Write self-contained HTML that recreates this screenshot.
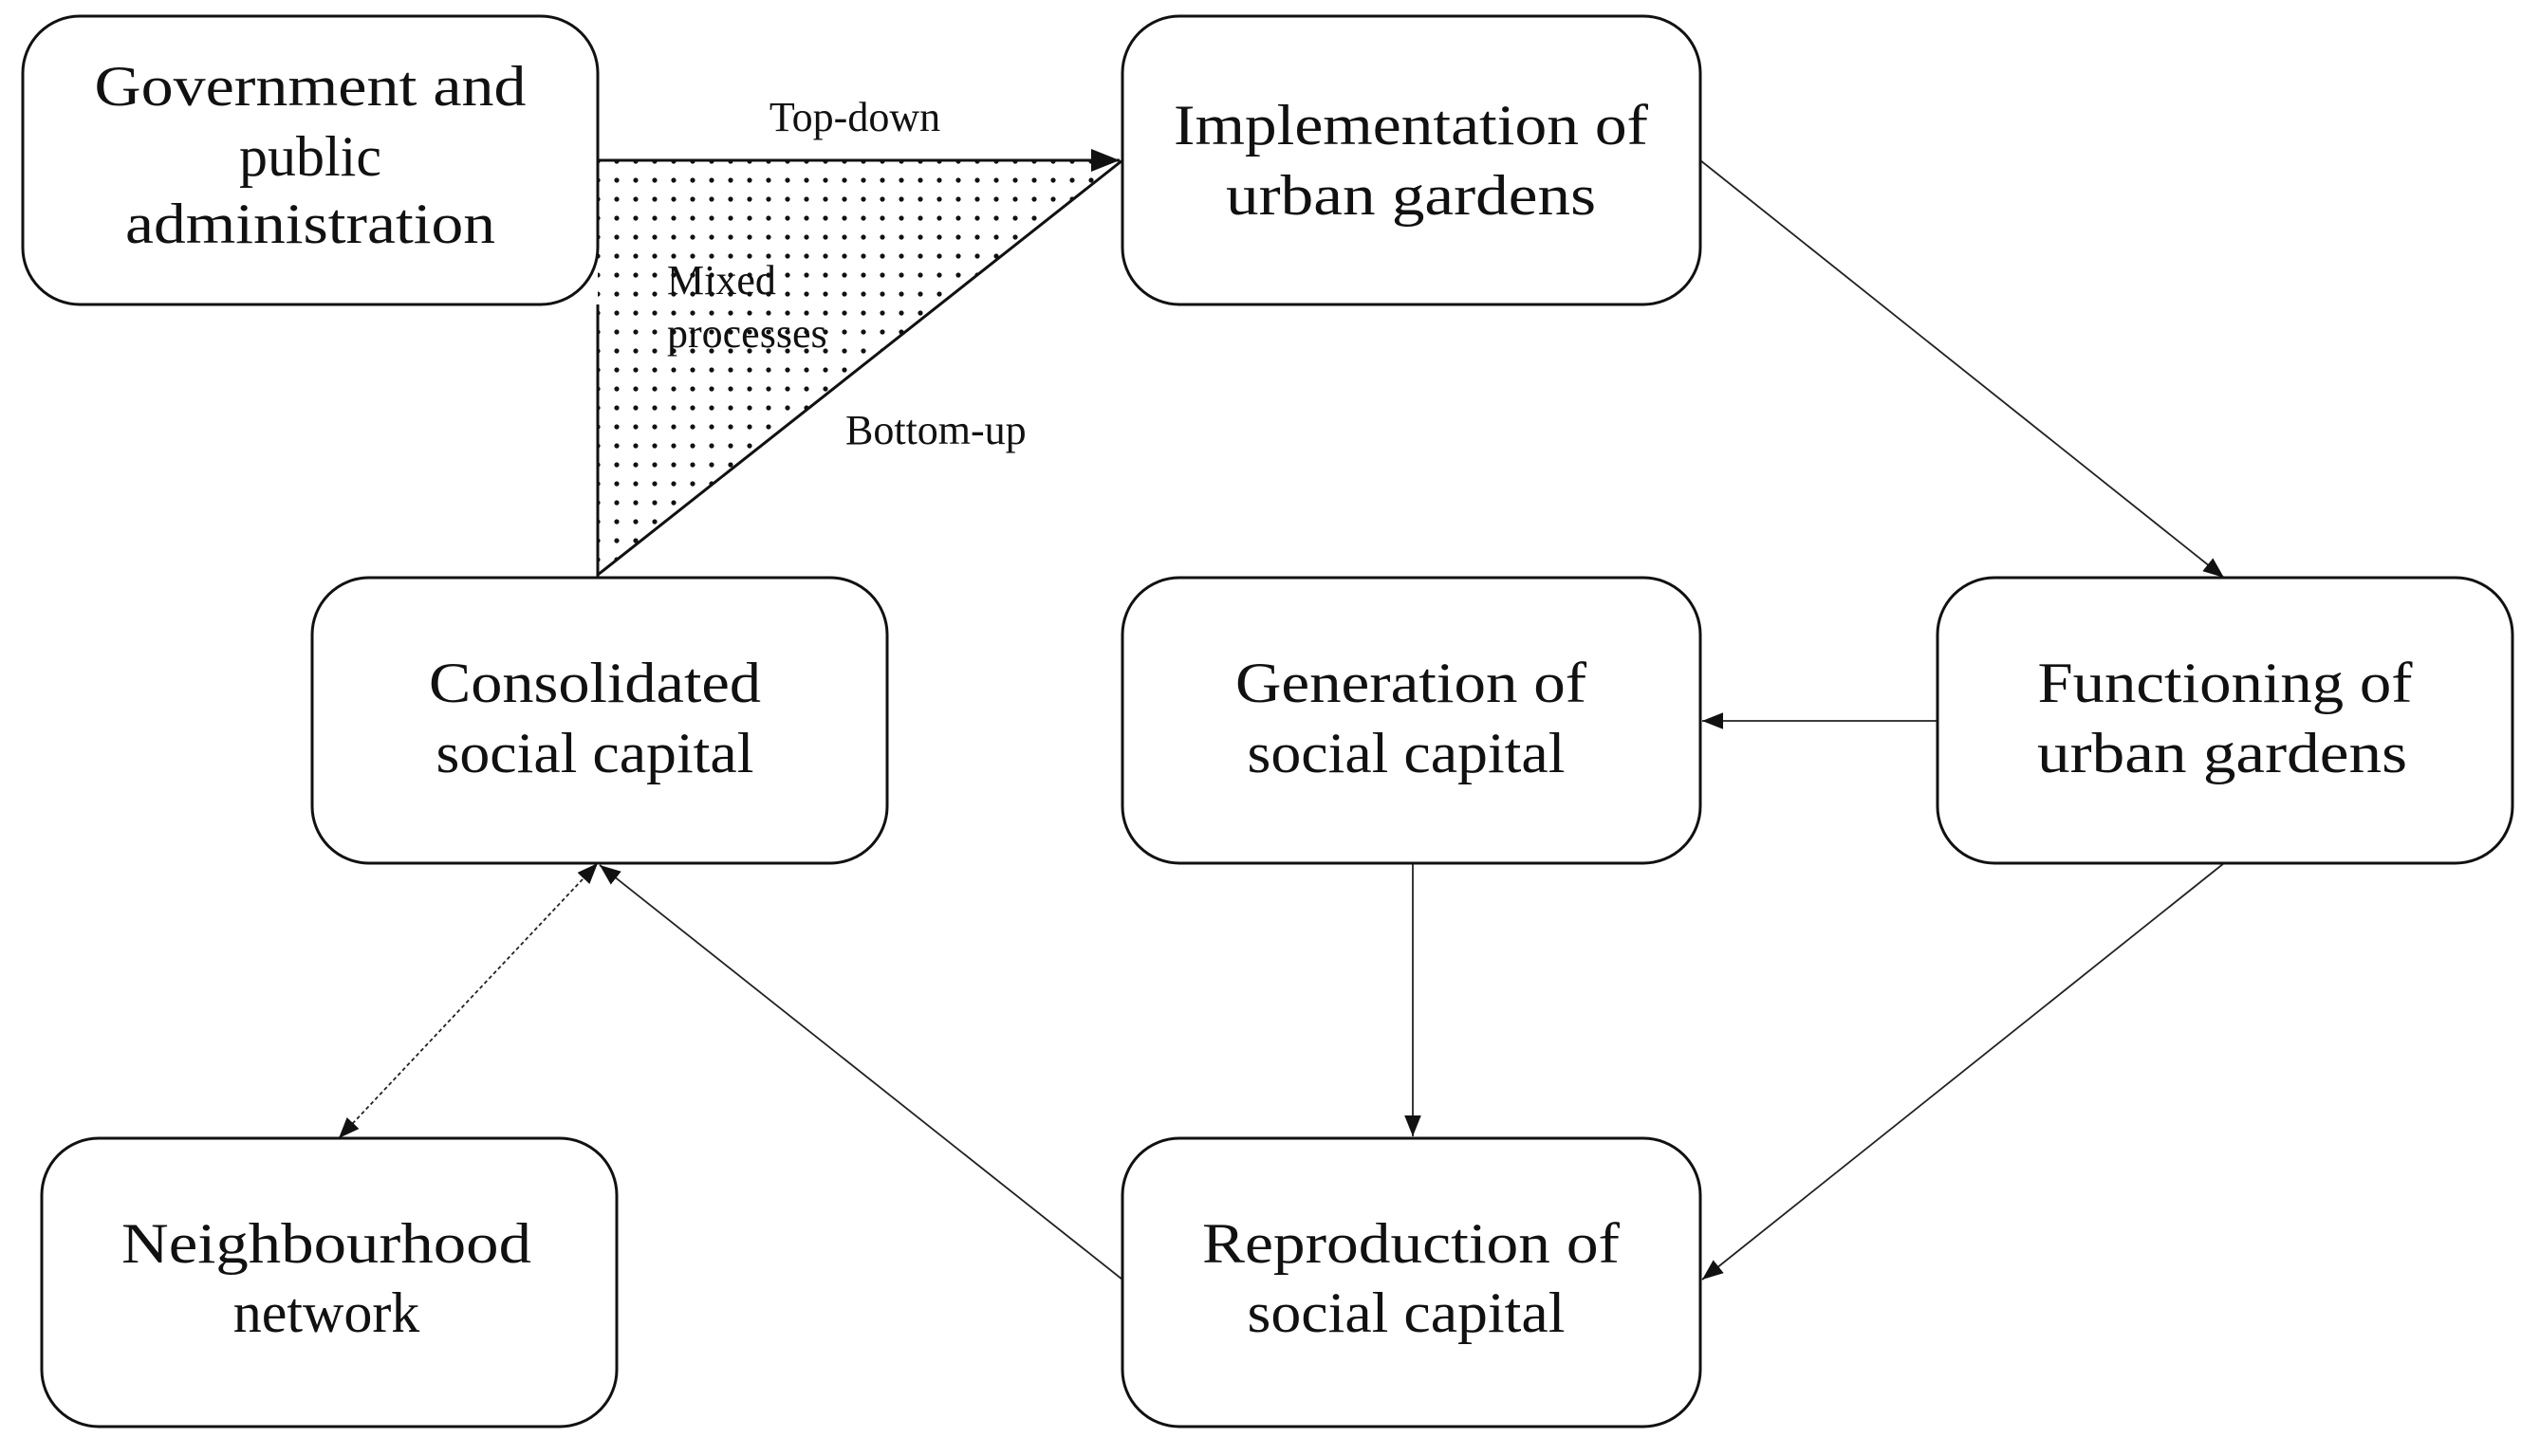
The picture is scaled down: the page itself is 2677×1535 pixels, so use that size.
<!DOCTYPE html>
<html><head><meta charset="utf-8"><style>
html,body{margin:0;padding:0;background:#fff;}
svg{display:block;}
text{font-family:"Liberation Serif",serif;fill:#111;}
.b{fill:#fff;stroke:#111;stroke-width:3;}
.t{font-size:60px;text-anchor:middle;}
.s{font-size:44px;}
</style></head><body>
<svg width="2677" height="1535" viewBox="0 0 2677 1535" xmlns="http://www.w3.org/2000/svg">
<defs>
<pattern id="dots" width="20" height="20" patternUnits="userSpaceOnUse">
<circle cx="10" cy="10" r="2.6" fill="#111"/>
</pattern>
<marker id="ah" viewBox="0 0 10 10" refX="10" refY="5" markerWidth="22" markerHeight="22" markerUnits="userSpaceOnUse" orient="auto-start-reverse">
<path d="M0,1 L10,5 L0,9 z" fill="#111"/>
</marker>
<marker id="ab" viewBox="0 0 10 10" refX="10" refY="5" markerWidth="30" markerHeight="30" markerUnits="userSpaceOnUse" orient="auto">
<path d="M0,1 L10,5 L0,9 z" fill="#111"/>
</marker>
</defs>
<polygon points="630,169 1183,169 630,606" fill="url(#dots)"/>
<line x1="630" y1="169" x2="1180" y2="169" stroke="#111" stroke-width="3" marker-end="url(#ab)"/>
<line x1="630" y1="606" x2="1183" y2="169" stroke="#111" stroke-width="3"/>
<line x1="630" y1="321" x2="630" y2="608" stroke="#111" stroke-width="3"/>
<g stroke="#222" stroke-width="1.8" fill="none">
<line x1="1792" y1="169" x2="2344" y2="609" marker-end="url(#ah)"/>
<line x1="2042" y1="760" x2="1794" y2="760" marker-end="url(#ah)"/>
<line x1="1489" y1="910" x2="1489" y2="1198" marker-end="url(#ah)"/>
<line x1="2344" y1="910" x2="1794" y2="1349" marker-end="url(#ah)"/>
<line x1="1183" y1="1349" x2="632" y2="912" marker-end="url(#ah)"/>
<line x1="357" y1="1200" x2="630" y2="910" stroke-dasharray="4,3" marker-start="url(#ah)" marker-end="url(#ah)"/>
</g>
<rect class="b" x="24" y="17" width="606" height="304" rx="60"/>
<rect class="b" x="1183" y="17" width="609" height="304" rx="60"/>
<rect class="b" x="329" y="609" width="606" height="301" rx="60"/>
<rect class="b" x="1183" y="609" width="609" height="301" rx="60"/>
<rect class="b" x="2042" y="609" width="606" height="301" rx="60"/>
<rect class="b" x="44" y="1200" width="606" height="304" rx="60"/>
<rect class="b" x="1183" y="1200" width="609" height="304" rx="60"/>
<g class="t">
<text x="327" y="111" textLength="455" lengthAdjust="spacingAndGlyphs">Government and</text>
<text x="327" y="185">public</text>
<text x="327" y="256" textLength="390" lengthAdjust="spacingAndGlyphs">administration</text>
<text x="1487" y="152" textLength="500" lengthAdjust="spacingAndGlyphs">Implementation of</text>
<text x="1487" y="226" textLength="390" lengthAdjust="spacingAndGlyphs">urban gardens</text>
<text x="627" y="740" textLength="350" lengthAdjust="spacingAndGlyphs">Consolidated</text>
<text x="627" y="814" textLength="335" lengthAdjust="spacingAndGlyphs">social capital</text>
<text x="1487" y="740" textLength="370" lengthAdjust="spacingAndGlyphs">Generation of</text>
<text x="1482" y="814" textLength="335" lengthAdjust="spacingAndGlyphs">social capital</text>
<text x="2345" y="740" textLength="395" lengthAdjust="spacingAndGlyphs">Functioning of</text>
<text x="2342" y="814" textLength="390" lengthAdjust="spacingAndGlyphs">urban gardens</text>
<text x="344" y="1331" textLength="432" lengthAdjust="spacingAndGlyphs">Neighbourhood</text>
<text x="344" y="1404">network</text>
<text x="1487" y="1331" textLength="440" lengthAdjust="spacingAndGlyphs">Reproduction of</text>
<text x="1482" y="1404" textLength="335" lengthAdjust="spacingAndGlyphs">social capital</text>
</g>
<text class="s" x="901" y="138" text-anchor="middle">Top-down</text>
<text class="s" x="703" y="310">Mixed</text>
<text class="s" x="703" y="366">processes</text>
<text class="s" x="891" y="468">Bottom-up</text>
</svg>
</body></html>
